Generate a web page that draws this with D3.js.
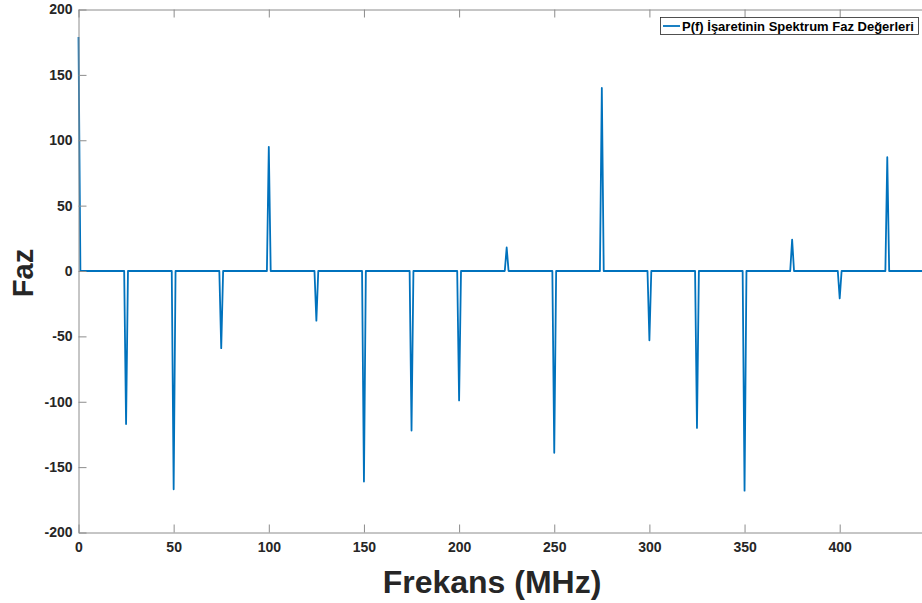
<!DOCTYPE html>
<html>
<head>
<meta charset="utf-8">
<script src="https://cdn.jsdelivr.net/npm/d3@7"></script>
<style>
  body { margin: 0; background: #fff; }
  text { font-family: "Liberation Sans", Arial, Helvetica, sans-serif; font-weight: bold; }
</style>
</head>
<body>
<div id="chart"></div>
<script>
// Spike positions (MHz) and phase values
const spikeFreqs = [0, 25, 50, 75, 100, 125, 150, 175, 200, 225, 250, 275, 300, 325, 350, 375, 400, 425];
const spikePhases = [179, -117, -167, -59, 95, -38, -161, -122, -99, 18, -139, 140, -53, -120, -168, 24, -21, 87];
const lastFreq = 500;

const xTicks = [0, 50, 100, 150, 200, 250, 300, 350, 400];
const yTicks = [-200, -150, -100, -50, 0, 50, 100, 150, 200];

const legendLabel = "P(f) İşaretinin Spektrum Faz Değerleri";

// Build the line: zero between spikes, one sample each side
const points = [];
spikeFreqs.forEach((f, i) => {
  if (f > 0) points.push([f - 1, 0]);
  points.push([f, spikePhases[i]]);
  points.push([f + 1, 0]);
});
points.push([lastFreq, 0]);

const width = 922, height = 603;
const svg = d3.select("#chart").append("svg")
  .attr("width", width)
  .attr("height", height);

const x = d3.scaleLinear().domain([0, 500]).range([78.5, 78.5 + 1.903 * 500]);
const y = d3.scaleLinear().domain([-200, 200]).range([532.5, 9.5]);

const axisColor = "#8c8c8c";
const labelColor = "#262626";
const plain = d => String(d); // hyphen minus like the original

// Data line
svg.append("path")
  .datum(points)
  .attr("fill", "none")
  .attr("stroke", "#0072BD")
  .attr("stroke-width", 1.8)
  .attr("stroke-linejoin", "round")
  .attr("d", d3.line().x(d => x(d[0])).y(d => y(d[1])));

// Axes (ticks pointing inward, box on top)
const xAxisBottom = svg.append("g")
  .attr("transform", `translate(0,${y(-200)})`)
  .call(d3.axisBottom(x).tickValues(xTicks).tickSizeInner(-8).tickSizeOuter(0).tickPadding(10).tickFormat(plain));
const xAxisTop = svg.append("g")
  .attr("transform", `translate(0,${y(200)})`)
  .call(d3.axisTop(x).tickValues(xTicks).tickSizeInner(-8).tickSizeOuter(0).tickFormat(""));
const yAxisLeft = svg.append("g")
  .attr("transform", `translate(${x(0)},0)`)
  .call(d3.axisLeft(y).tickValues(yTicks).tickSizeInner(-8).tickSizeOuter(0).tickPadding(6).tickFormat(plain));

[xAxisBottom, xAxisTop, yAxisLeft].forEach(g => {
  g.select(".domain").attr("stroke", axisColor);
  g.selectAll(".tick line").attr("stroke", axisColor);
  g.selectAll(".tick text").attr("fill", labelColor).style("font-size", "14px");
});

// Axis titles
svg.append("text")
  .attr("x", 492)
  .attr("y", 593)
  .attr("text-anchor", "middle")
  .attr("fill", labelColor)
  .style("font-size", "32px")
  .text("Frekans (MHz)");

svg.append("text")
  .attr("transform", `translate(33,273) rotate(-90)`)
  .attr("text-anchor", "middle")
  .attr("fill", labelColor)
  .style("font-size", "29px")
  .text("Faz");

// Legend
const legend = svg.append("g");
legend.append("rect")
  .attr("x", 660.5).attr("y", 17.5)
  .attr("width", 258).attr("height", 17)
  .attr("fill", "#fff")
  .attr("stroke", "#262626")
  .attr("stroke-width", 0.8);
legend.append("line")
  .attr("x1", 663).attr("x2", 680)
  .attr("y1", 26).attr("y2", 26)
  .attr("stroke", "#0072BD")
  .attr("stroke-width", 1.8);
legend.append("text")
  .attr("x", 682)
  .attr("y", 30.8)
  .attr("fill", "#000")
  .style("font-size", "13px")
  .text(legendLabel);
</script>
</body>
</html>
